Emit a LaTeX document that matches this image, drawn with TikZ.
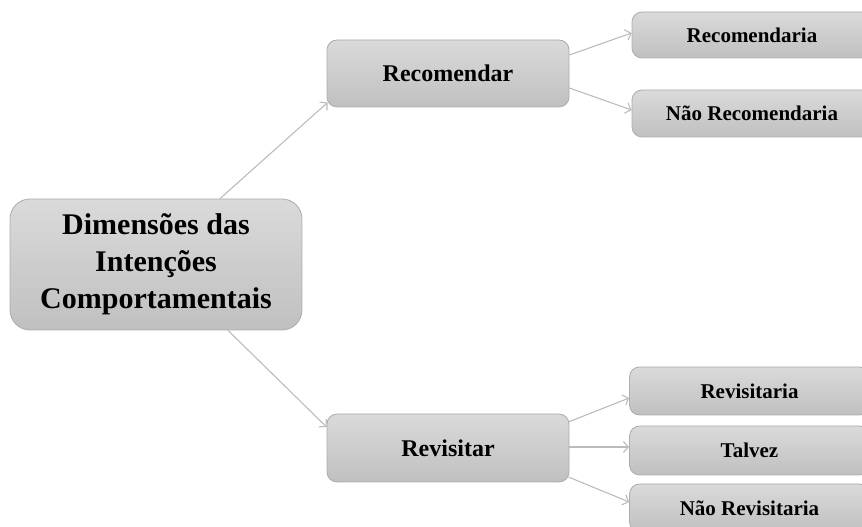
\documentclass[tikz,border=0pt]{standalone}
\usepackage{fontspec}
\setmainfont{Liberation Serif}
\usetikzlibrary{arrows.meta}
\definecolor{boxtop}{RGB}{218,218,218}
\definecolor{boxbot}{RGB}{192,192,192}
\definecolor{boxline}{RGB}{172,172,172}
\definecolor{linkgray}{RGB}{188,188,188}
\tikzset{
  box/.style={draw=boxline, line width=0.8pt, top color=boxtop, bottom color=boxbot,
    rounded corners=10pt, inner sep=0pt, align=center, text=black},
  rootbox/.style={box, minimum width=292pt, minimum height=131pt, rounded corners=20pt,
    font=\fontsize{30}{37}\selectfont\bfseries},
  midbox/.style={box, minimum width=242pt, minimum height=67pt,
    font=\fontsize{24}{28}\selectfont\bfseries},
  leafbox/.style={box, minimum width=240pt, minimum height=47pt,
    font=\fontsize{21}{25}\selectfont\bfseries},
  link/.style={draw=linkgray, line width=1.1pt, -{Straight Barb[length=5pt,width=11pt]}}
}
\begin{document}
\begin{tikzpicture}[x=1pt,y=1pt]
  \useasboundingbox (0,0) rectangle (862,527);
  \begin{scope}
    \clip (0,0) rectangle (862,527);
    \node[rootbox] (root) at (156,262.5) {Dimensões das\\Intenções\\Comportamentais};
    \node[midbox] (rec) at (448,453.5) {Recomendar};
    \node[midbox, minimum height=68pt] (rev) at (448,79) {Revisitar};
    \node[leafbox, minimum height=46pt] (recsim) at (752,492) {Recomendaria};
    \node[leafbox] (recnao) at (752,413.5) {Não Recomendaria};
    \node[leafbox, minimum height=48pt] (revsim) at (749.5,136) {Revisitaria};
    \node[leafbox, minimum height=49pt] (revtalvez) at (749.5,76.5) {Talvez};
    \node[leafbox, minimum height=48pt] (revnao) at (749.5,19) {Não Revisitaria};

    \draw[link] ([xshift=64pt]root.north) -- ([xshift=1pt,yshift=-29pt]rec.west);
    \draw[link] ([xshift=72pt]root.south) -- ([yshift=21pt]rev.west);

    \draw[link] ([yshift=18.5pt]rec.east) -- ([yshift=2pt]recsim.west);
    \draw[link] ([yshift=-14.5pt]rec.east) -- ([yshift=3.5pt]recnao.west);

    \draw[link] ([xshift=-1pt,yshift=26pt]rev.east) -- ([yshift=-7pt]revsim.west);
    \draw[link] ([xshift=-1pt,yshift=1pt]rev.east) -- ([yshift=3.5pt]revtalvez.west);
    \draw[link] ([xshift=-1pt,yshift=-29pt]rev.east) -- ([yshift=6pt]revnao.west);
  \end{scope}
\end{tikzpicture}
\end{document}
